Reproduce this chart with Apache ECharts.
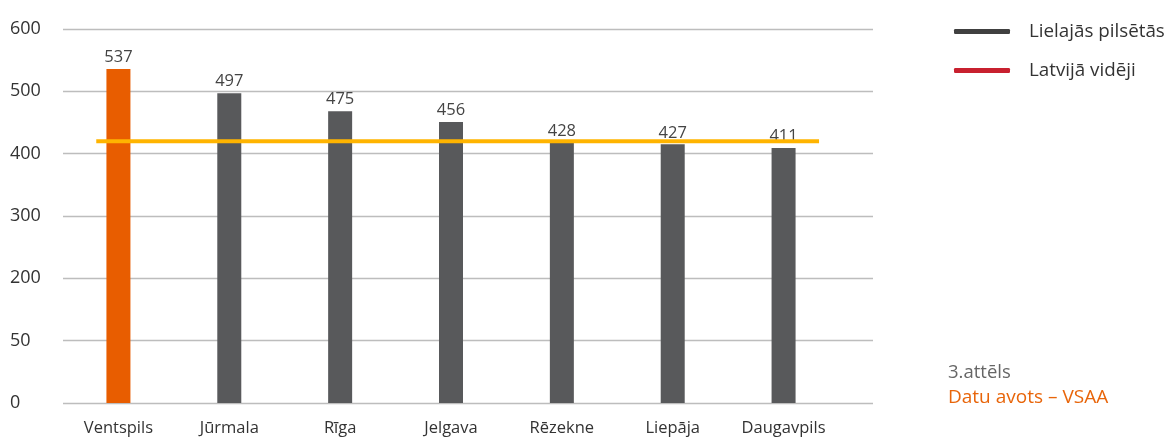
<!DOCTYPE html>
<html>
<head>
<meta charset="utf-8">
<script src="https://cdn.jsdelivr.net/npm/echarts@6/dist/echarts.min.js"></script>
<style>
html,body{margin:0;padding:0;background:#fff;}
#chart{width:1166px;height:437px;}
</style>
</head>
<body>
<div id="chart"></div>
<script>
// Categories (cities)
const categories = ['Ventspils', 'Jūrmala', 'Rīga', 'Jelgava', 'Rēzekne', 'Liepāja', 'Daugavpils'];
// Bar heights as drawn in the picture
const barValues = [536, 497, 468, 451, 418, 415, 409];
// Value labels printed above the bars
const barLabels = ['537', '497', '475', '456', '428', '427', '411'];
// Latvian average line (value and its horizontal span, in category units)
const avgValue = 420;
const avgSpan = [-0.2, 6.32];
// Y tick labels as printed (the 100 tick is labelled "50" in the original)
const yTickValues = [0, 100, 200, 300, 400, 500, 600];
const yTickLabels = ['0', '50', '200', '300', '400', '500', '600'];
const barColors = ['#E85D00', '#58595B', '#58595B', '#58595B', '#58595B', '#58595B', '#58595B'];

const FONT = '"Open Sans", "Noto Sans", sans-serif';
const chart = echarts.init(document.getElementById('chart'), null, {renderer: 'canvas'});

const option = {
  animation: false,
  textStyle: {fontFamily: FONT},
  grid: [
    {left: 63, right: 1166 - 839, top: 29, bottom: 437 - 403, containLabel: false},
    {left: 63, right: 1166 - 873, top: 29, bottom: 437 - 403, containLabel: false}
  ],
  xAxis: [
    {
      type: 'category', gridIndex: 0, data: categories,
      axisLine: {show: false}, axisTick: {show: false},
      axisLabel: {color: '#333', fontSize: 16.5, margin: 17, fontFamily: FONT, interval: 0}
    },
    {
      type: 'value', gridIndex: 1, min: -0.5, max: -0.5 + (873 - 63) / ((839 - 63) / 7),
      show: false
    }
  ],
  yAxis: [
    {
      type: 'value', gridIndex: 0, min: 0, max: 600, interval: 100,
      axisLine: {show: false}, axisTick: {show: false}, splitLine: {show: false},
      axisLabel: {show: false}
    },
    {
      type: 'value', gridIndex: 1, min: 0, max: 600, interval: 100,
      axisLine: {show: false}, axisTick: {show: false},
      splitLine: {show: true, lineStyle: {color: '#BDBDBD', width: 1.3}},
      axisLabel: {
        color: '#333', fontSize: 18, align: 'left', margin: 53, fontFamily: FONT,
        formatter: function (v) { const i = yTickValues.indexOf(v); return i >= 0 ? yTickLabels[i] : ''; }
      }
    }
  ],
  legend: {
    orient: 'vertical', left: 949, top: 17, itemGap: 20,
    itemWidth: 56, itemHeight: 5, selectedMode: false,
    textStyle: {color: '#333', fontSize: 18.8, fontFamily: FONT, padding: [0, 0, 0, 14]},
    data: [
      {name: 'Lielajās pilsētās', icon: 'roundRect', itemStyle: {color: '#404040'}},
      {name: 'Latvijā vidēji', icon: 'roundRect', itemStyle: {color: '#C8202F'}}
    ]
  },
  title: {
    left: 948, top: 363, padding: 0,
    text: '3.attēls',
    subtext: 'Datu avots – VSAA',
    itemGap: 6,
    textStyle: {color: '#666', fontSize: 18.5, fontWeight: 'normal', fontFamily: FONT},
    subtextStyle: {color: '#E8650A', fontSize: 19, fontFamily: FONT}
  },
  series: [
    {
      name: 'Lielajās pilsētās', type: 'bar', xAxisIndex: 0, yAxisIndex: 0,
      barWidth: 24,
      data: barValues.map((v, i) => ({value: v, itemStyle: {color: barColors[i]}})),
      label: {
        show: true, position: 'top', distance: 3, color: '#444', fontSize: 16.5, fontFamily: FONT,
        formatter: p => barLabels[p.dataIndex]
      },
      z: 2
    },
    {
      name: 'Latvijā vidēji', type: 'line', xAxisIndex: 1, yAxisIndex: 1,
      data: avgSpan.map(x => [x, avgValue]),
      symbol: 'none',
      lineStyle: {color: '#FFB400', width: 4},
      z: 3
    }
  ]
};
chart.setOption(option);
</script>
</body>
</html>
